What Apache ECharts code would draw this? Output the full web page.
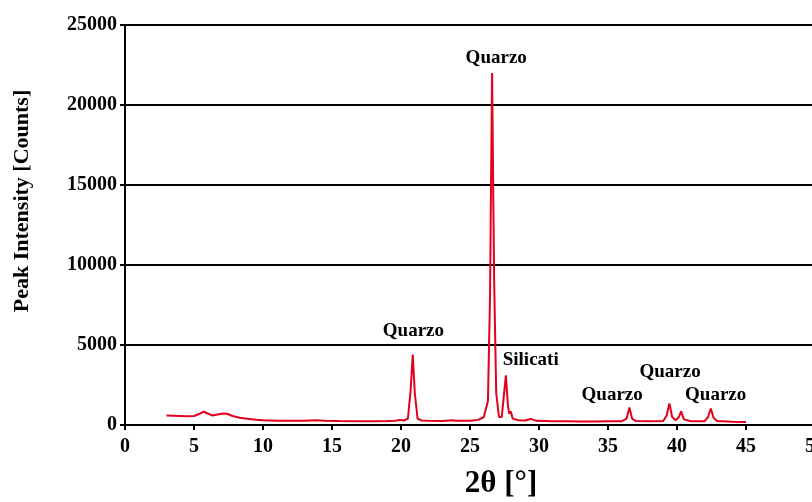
<!DOCTYPE html>
<html>
<head>
    <meta charset="utf-8">
    <title>XRD</title>
    <script src="https://cdn.jsdelivr.net/npm/echarts@6/dist/echarts.min.js"></script>
    <style>
        html, body { margin: 0; padding: 0; background: #fff; }
        #chart { width: 812px; height: 502px; }
    </style>
</head>
<body>
<div id="chart"></div>
<script>
    // 2theta / counts
    var twoTheta = [3.0, 3.5, 4.0, 4.5, 5.0, 5.4, 5.7, 6.0, 6.3, 6.7, 7.1, 7.4, 7.8, 8.3, 9.0, 9.5, 10.0,
        11, 12, 13, 13.8, 14.5, 15.5, 17, 18, 19, 19.6, 19.9, 20.2, 20.5, 20.7, 20.85, 21.0, 21.2, 21.5,
        22, 23, 23.7, 24, 25, 25.6, 26.0, 26.3, 26.45, 26.6, 26.75, 26.9, 27.1, 27.3, 27.45, 27.6, 27.75,
        27.85, 27.95, 28.1, 28.5, 29, 29.4, 29.8, 31, 32, 33, 34, 35, 36, 36.35, 36.55, 36.75, 37, 38, 39,
        39.25, 39.45, 39.65, 39.9, 40.1, 40.3, 40.5, 41, 42, 42.25, 42.45, 42.65, 42.9, 44, 45];
    var counts = [600, 580, 560, 540, 560, 700, 830, 720, 600, 650, 720, 700, 560, 450, 380, 330, 290,
        270, 260, 270, 300, 270, 250, 240, 240, 245, 260, 320, 280, 400, 2200, 4400, 2000, 400, 280,
        260, 250, 300, 260, 260, 320, 500, 1500, 8000, 22000, 9000, 2000, 500, 500, 1800, 3100, 1200,
        700, 850, 400, 300, 280, 380, 260, 240, 230, 220, 220, 230, 240, 400, 1100, 400, 250, 240, 250,
        600, 1340, 500, 300, 450, 850, 350, 240, 240, 500, 1030, 450, 250, 200, 180];

    // peak labels: text, x, y (data coords)
    var peakNames = ['Quarzo', 'Quarzo', 'Silicati', 'Quarzo', 'Quarzo', 'Quarzo'];
    var peakX = [26.9, 20.9, 29.4, 35.3, 39.5, 42.8];
    var peakY = [22950, 5900, 4050, 1900, 3300, 1900];

    var serif = '"Liberation Serif", "Times New Roman", serif';
    var lineData = twoTheta.map(function (t, i) { return [t, counts[i]]; });
    var labelData = peakNames.map(function (n, i) { return {value: [peakX[i], peakY[i]], name: n}; });

    var myChart = echarts.init(document.getElementById('chart'));
    myChart.setOption({
        animation: false,
        grid: {left: 125, right: -3, top: 25, bottom: 77, outerBoundsMode: 'none', containLabel: false},
        xAxis: {
            type: 'value', min: 0, max: 50, interval: 5,
            axisLine: {onZero: false, lineStyle: {color: '#000', width: 2}},
            axisTick: {show: true, length: 5, lineStyle: {color: '#000', width: 2}},
            axisLabel: {color: '#000', fontFamily: serif, fontWeight: 'bold', fontSize: 20, margin: 12},
            splitLine: {show: false}
        },
        yAxis: {
            type: 'value', min: 0, max: 25000, interval: 5000,
            axisLine: {show: true, lineStyle: {color: '#000', width: 2}},
            axisTick: {show: true, length: 5, lineStyle: {color: '#000', width: 2}},
            axisLabel: {
                color: '#000', fontFamily: serif, fontWeight: 'bold', fontSize: 20, margin: 8,
                formatter: function (v) { return String(v); }
            },
            splitLine: {show: true, lineStyle: {color: '#000', width: 2}}
        },
        series: [
            {
                type: 'line', data: lineData, showSymbol: false,
                lineStyle: {color: '#e2001a', width: 2}
            },
            {
                type: 'scatter', data: labelData, symbolSize: 0, silent: true,
                label: {
                    show: true, position: 'inside', formatter: '{b}', color: '#000',
                    textBorderWidth: 0, opacity: 1,
                    fontFamily: serif, fontWeight: 'bold', fontSize: 19
                }
            }
        ],
        graphic: [
            {
                type: 'text', x: 501, y: 484,
                style: {text: '2θ [°]', fill: '#000', font: 'bold 31px ' + serif, align: 'center', verticalAlign: 'middle'}
            },
            {
                type: 'text', x: 22, y: 201, rotation: Math.PI / 2,
                style: {text: 'Peak Intensity [Counts]', fill: '#000', font: 'bold 22px ' + serif, align: 'center', verticalAlign: 'middle'}
            }
        ]
    });
</script>
</body>
</html>
